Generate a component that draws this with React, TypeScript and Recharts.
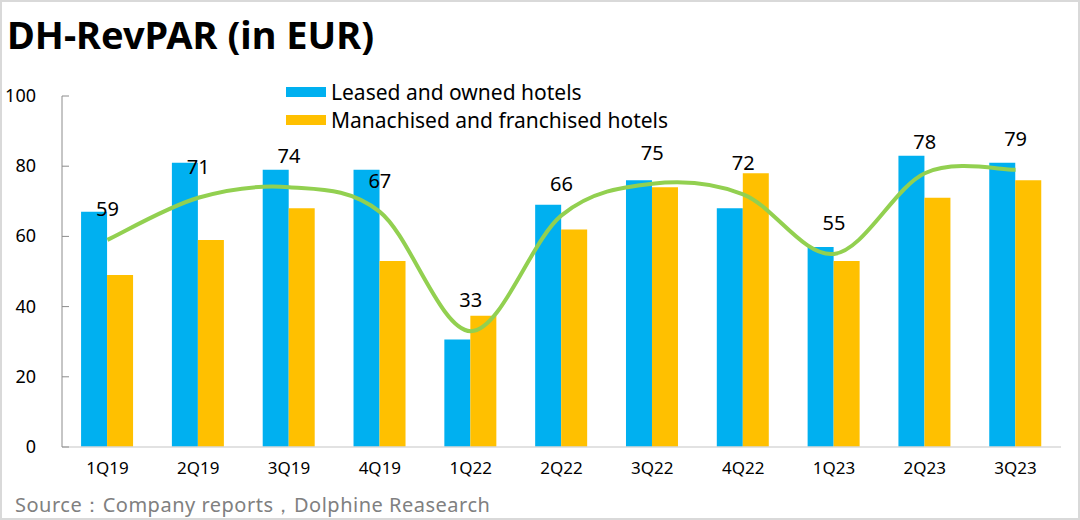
import React from 'react';
import { ComposedChart, Bar, Line, XAxis, YAxis, LabelList } from 'recharts';

const categories = ['1Q19', '2Q19', '3Q19', '4Q19', '1Q22', '2Q22', '3Q22', '4Q22', '1Q23', '2Q23', '3Q23'];
const leasedOwned = [67, 81, 79, 79, 30.6, 69, 76, 68, 57, 83, 81];
const managedFranchised = [49, 59, 68, 53, 37.4, 62, 74, 78, 53, 71, 76];
const totalRevpar = [59, 71, 74, 67, 33, 66, 75, 72, 55, 78, 79];
const yTicks = [0, 20, 40, 60, 80, 100];

const seriesNames = ['Leased and owned hotels', 'Manachised and franchised hotels'];
const BLUE = '#00B0F0';
const ORANGE = '#FFC000';
const GREEN = '#92D050';
const FONT = '"Noto Sans", "Open Sans", "DejaVu Sans", sans-serif';

const data = categories.map((c, i) => ({
  name: c,
  leased: leasedOwned[i],
  managed: managedFranchised[i],
  total: totalRevpar[i],
}));

// Catmull-Rom style smoothing (similar to Excel smoothed line)
const curveSmooth: any = (context: any) => {
  let pts: number[][] = [];
  return {
    areaStart() {},
    areaEnd() {},
    lineStart() {
      pts = [];
    },
    point(x: number, y: number) {
      pts.push([+x, +y]);
    },
    lineEnd() {
      if (!pts.length) return;
      context.moveTo(pts[0][0], pts[0][1]);
      for (let i = 0; i < pts.length - 1; i++) {
        const p0 = pts[i - 1] || pts[i];
        const p1 = pts[i];
        const p2 = pts[i + 1];
        const p3 = pts[i + 2] || p2;
        const c1x = p1[0] + (p2[0] - p0[0]) / 6;
        const c1y = p1[1] + (p2[1] - p0[1]) / 6;
        const c2x = p2[0] - (p3[0] - p1[0]) / 6;
        const c2y = p2[1] - (p3[1] - p1[1]) / 6;
        context.bezierCurveTo(c1x, c1y, c2x, c2y, p2[0], p2[1]);
      }
    },
  };
};

const YTick = (props: any) => {
  const { x, y, payload } = props;
  const axisX = x + 26;
  return (
    <g>
      <line x1={axisX} x2={axisX + 7} y1={y} y2={y} stroke="#8c8c8c" strokeWidth={1} />
      <text x={x} y={y} dy={6} textAnchor="end" fontSize={18} fill="#000" fontFamily={FONT}>
        {payload.value}
      </text>
    </g>
  );
};

const LegendBox = () => (
  <div style={{ position: 'absolute', left: 286, top: 78, fontFamily: FONT, fontSize: 21, color: '#000' }}>
    {seriesNames.map((n, i) => (
      <div key={n} style={{ display: 'flex', alignItems: 'center', height: 28, whiteSpace: 'nowrap' }}>
        <span style={{ display: 'inline-block', width: 40, height: 10, background: i === 0 ? BLUE : ORANGE, marginRight: 5 }} />
        <span>{n}</span>
      </div>
    ))}
  </div>
);

export default function App() {
  return (
    <div style={{ position: 'absolute', left: 0, top: 0, width: 1080, height: 520, background: '#fff', overflow: 'hidden' }}>
      <div style={{ position: 'absolute', inset: 0, border: '2px solid #d9d9d9', boxSizing: 'border-box', pointerEvents: 'none', zIndex: 2 }} />
      <div style={{ position: 'absolute', left: 7, top: 11, fontFamily: FONT, fontWeight: 700, fontSize: 38, lineHeight: '46px', color: '#000', whiteSpace: 'nowrap' }}>
        DH-RevPAR (in EUR)
      </div>
      <ComposedChart
        width={1080}
        height={520}
        data={data}
        margin={{ top: 96, right: 19, bottom: 33, left: 0 }}
        barGap={0}
        barCategoryGap="21%"
      >
        <XAxis
          dataKey="name"
          axisLine={{ stroke: '#d9d9d9', strokeWidth: 1.5 }}
          tickLine={false}
          tickSize={0}
          tickMargin={15}
          height={40}
          tick={{ fontSize: 17, fill: '#000', fontFamily: FONT }}
          interval={0}
        />
        <YAxis
          domain={[0, 100]}
          ticks={yTicks}
          width={62}
          axisLine={{ stroke: '#8c8c8c', strokeWidth: 1 }}
          tickLine={false}
          tickSize={0}
          tickMargin={26}
          tick={<YTick />}
          interval={0}
        />
        <Bar dataKey="leased" name={seriesNames[0]} fill={BLUE} isAnimationActive={false} />
        <Bar dataKey="managed" name={seriesNames[1]} fill={ORANGE} isAnimationActive={false} />
        <Line
          dataKey="total"
          type={curveSmooth}
          stroke={GREEN}
          strokeWidth={4}
          dot={false}
          activeDot={false}
          isAnimationActive={false}
        >
          <LabelList dataKey="total" position="top" offset={24} fontSize={20} fill="#000" fontFamily={FONT} />
        </Line>
      </ComposedChart>
      <LegendBox />
      <div style={{ position: 'absolute', left: 15, top: 491, fontFamily: FONT, fontSize: 20, letterSpacing: 0.5, color: '#808080', whiteSpace: 'pre' }}>
        Source：Company reports，Dolphine Reasearch
      </div>
    </div>
  );
}
